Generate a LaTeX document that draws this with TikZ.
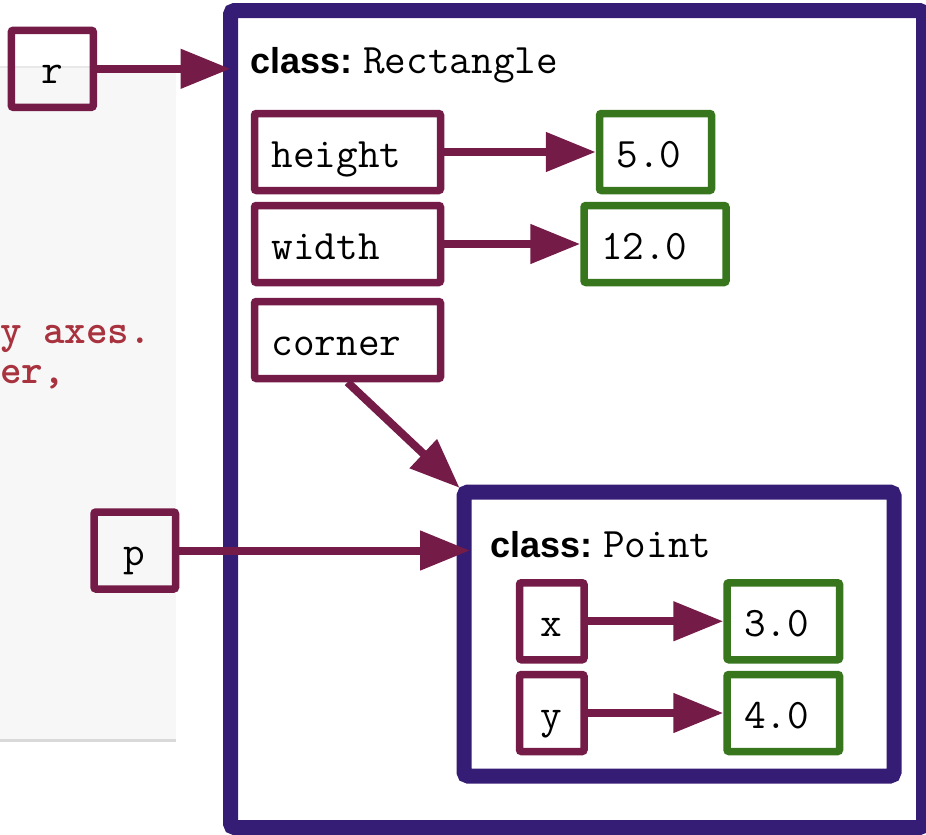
\documentclass[tikz,border=0pt]{standalone}
\usepackage{fontspec}
\setmainfont{Liberation Sans}
\usetikzlibrary{arrows.meta}

\definecolor{varcol}{HTML}{741B47}
\definecolor{valcol}{HTML}{38761D}
\definecolor{objcol}{HTML}{351C75}
\definecolor{codecol}{HTML}{A8323E}
\definecolor{panelcol}{HTML}{F7F7F7}
\definecolor{panelline}{HTML}{D9D9D9}

\newcommand{\codesize}{\fontsize{42}{46}\selectfont\ttfamily}
\newcommand{\clslabel}[1]{{\fontsize{36}{40}\selectfont\bfseries class:}\hspace{11pt}{\codesize #1}}

\begin{document}
\begin{tikzpicture}[x=1pt, y=-1pt,
    box/.style = {draw, line width=7.5pt, rounded corners=2pt, font=\codesize,
                  text height=30pt, text depth=0pt, inner ysep=0pt, minimum height=77pt},
    var/.style = {box, draw=varcol, minimum width=#1, inner xsep=0pt},
    field/.style = {box, draw=varcol, text width=#1, inner xsep=17pt, align=left},
    value/.style = {box, draw=valcol, text width=#1, inner xsep=17pt, align=left},
    frame/.style = {draw=objcol, line width=15pt, rounded corners=4pt, outer sep=0pt},
    code/.style = {anchor=base west, inner sep=0pt, text=codecol,
                   font=\fontsize{41}{46}\selectfont\ttfamily\bfseries},
    ptr/.style = {draw=varcol, line width=8pt, -{Triangle[length=50pt, width=38pt]}}]
    \useasboundingbox (0,0) rectangle (926,835);

    % code panel behind the frames
    \fill[panelcol] (0,67) rectangle (176,740);
    \draw[panelline!60, line width=2pt] (0,67) -- (176,67);
    \draw[panelline, line width=3pt] (0,740) -- (176,740);
    \node[code] (line1) at (0,343) {y axes.};
    \node[code] (line2) at (0,383) {er,};

    % objects
    \node[frame, minimum width=693pt, minimum height=817pt] (rect) at (577,419) {};
    \node[frame, minimum width=430pt, minimum height=284pt] (pt) at (679,634) {};
    \node[anchor=base west, inner sep=0pt] (rectlabel) at (250,73) {\clslabel{Rectangle}};
    \node[anchor=base west, inner sep=0pt] (ptlabel) at (490,557) {\clslabel{Point}};

    % variables and attributes
    \node[var=82pt] (r) at (52.3,68.8) {r};
    \node[var=81.5pt] (p) at (134.75,550.5) {p};
    \node[field=152pt] (height) at (347.5,152) {height};
    \node[field=152pt] (width) at (347.5,244) {width};
    \node[field=152pt] (corner) at (347.5,340) {corner};
    \node[value=78pt] (hval) at (655.5,152) {5.0};
    \node[value=108pt] (wval) at (655,244) {12.0};
    \node[var=64.5pt] (x) at (551.75,621.25) {x};
    \node[var=64.5pt] (y) at (551.75,713) {y};
    \node[value=78.5pt] (xval) at (783.25,621.25) {3.0};
    \node[value=78.5pt] (yval) at (783.25,713) {4.0};

    % references
    \draw[ptr] (r) -- (r -| rect.west);
    \draw[ptr] (height) -- (hval);
    \draw[ptr] (width) -- (wval);
    \draw[ptr, shorten >=6pt] (corner.south) -- (pt.north west);
    \draw[ptr, shorten >=-6pt] (p) -- (p -| pt.west);
    \draw[ptr] (x) -- (xval);
    \draw[ptr] (y) -- (yval);
\end{tikzpicture}
\end{document}
